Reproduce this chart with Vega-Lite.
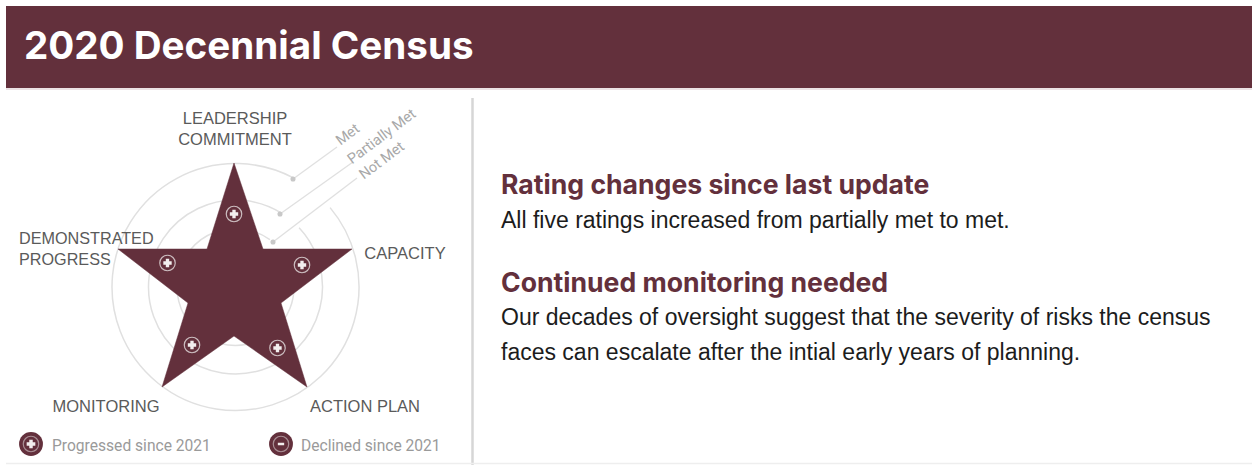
{"$schema":"https://vega.github.io/schema/vega-lite/v6.json","width":1252,"height":465,"padding":0,"autosize":{"type":"none"},"background":"#ffffff","config":{"view":{"stroke":null}},
"encoding":{"x":{"field":"x","type":"quantitative","scale":{"domain":[0,1252],"nice":false,"zero":false},"axis":null},"y":{"field":"y","type":"quantitative","scale":{"domain":[465,0],"nice":false,"zero":false},"axis":null}},
"layer":[
{"data":{"values":[{"x":6,"x2":1252,"y":6,"y2":88,"part":"banner"}]},"mark":{"type":"rect","fill":"#63303c"},"encoding":{"x2":{"field":"x2"},"y2":{"field":"y2"}}},
{"data":{"values":[{"x":6,"x2":1252,"y":89,"part":"banner edge"}]},"mark":{"type":"rule","stroke":"#e6d9dc","strokeWidth":1.5},"encoding":{"x2":{"field":"x2"}}},
{"data":{"values":[{"x":472.5,"y":98,"y2":465,"part":"divider"}]},"mark":{"type":"rule","stroke":"#d6d6d6","strokeWidth":2.5},"encoding":{"y2":{"field":"y2"}}},
{"data":{"values":[{"x":6,"x2":1252,"y":463.5,"part":"foot"}]},"mark":{"type":"rule","stroke":"#eeeeee","strokeWidth":1.5},"encoding":{"x2":{"field":"x2"}}},
{"data":{"values":[
{"x":235.5,"y":287,"ring":"Met","r":123.5,"start":50,"end":388},
{"x":235.5,"y":287,"ring":"Partially Met","r":87,"start":47,"end":392},
{"x":235.5,"y":287,"ring":"Not Met","r":58.5,"start":55,"end":396}
]},"mark":{"type":"arc","fillOpacity":0,"stroke":"#e0e0e0","strokeWidth":1.5},"encoding":{"theta":{"field":"start","type":"quantitative","scale":{"domain":[0,360],"range":[0,6.28318]}},"theta2":{"field":"end"},"radius":{"field":"r","type":"quantitative","scale":{"type":"linear","domain":[0,123.5],"range":[0,123.5]}},"radius2":{"field":"r"}}},
{"data":{"values":[
{"x":293,"y":179,"ring":"Met","i":0},{"x":337,"y":147,"ring":"Met","i":1},
{"x":280,"y":214,"ring":"Partially Met","i":0},{"x":353,"y":162,"ring":"Partially Met","i":1},
{"x":273,"y":242,"ring":"Not Met","i":0},{"x":357,"y":178,"ring":"Not Met","i":1}
]},"layer":[
{"mark":{"type":"line","stroke":"#e0e0e0","strokeWidth":1.3},"encoding":{"detail":{"field":"ring"},"order":{"field":"i"}}},
{"transform":[{"filter":"datum.i == 0"}],"mark":{"type":"point","shape":"circle","filled":true,"fill":"#c8c8c8","opacity":1,"size":26}}
]},
{"data":{"values":[
{"i":0,"x":234,"y":163},{"i":1,"x":263,"y":249},{"i":2,"x":352,"y":249},{"i":3,"x":281,"y":303},{"i":4,"x":307,"y":387},{"i":5,"x":234,"y":336},{"i":6,"x":162,"y":387},{"i":7,"x":188,"y":303},{"i":8,"x":118,"y":249},{"i":9,"x":207,"y":249},{"i":10,"x":234,"y":163}
]},"mark":{"type":"line","fill":"#63303c","stroke":"#63303c","strokeWidth":0.5},"encoding":{"order":{"field":"i"}}},
{"data":{"values":[{"criterion":"Leadership commitment","x":234,"y":214},{"criterion":"Capacity","x":302,"y":265},{"criterion":"Action plan","x":277.5,"y":348},{"criterion":"Monitoring","x":192,"y":345},{"criterion":"Demonstrated progress","x":167.5,"y":263}]},
"layer":[
{"mark":{"type":"point","shape":"circle","filled":false,"stroke":"#cbbcbf","strokeWidth":1.2,"opacity":1,"size":240}},
{"mark":{"type":"point","shape":"cross","filled":true,"fill":"#f2eeee","stroke":null,"opacity":1,"size":70}}
]},
{"data":{"values":[{"status":"Progressed","x":31,"y":444},{"status":"Declined","x":281,"y":444}]},
"layer":[
{"mark":{"type":"point","shape":"circle","filled":true,"fill":"#63303c","opacity":1,"size":570}},
{"mark":{"type":"point","shape":"circle","filled":false,"stroke":"#a98f95","strokeWidth":1.2,"opacity":1,"size":240}},
{"transform":[{"filter":"datum.status == 'Progressed'"}],"mark":{"type":"point","shape":"cross","filled":true,"fill":"#f2eeee","stroke":null,"opacity":1,"size":75}},
{"transform":[{"filter":"datum.status == 'Declined'"}],"mark":{"type":"point","shape":"stroke","filled":false,"stroke":"#f2eeee","strokeWidth":2.5,"opacity":1,"size":40}}
]},
{"data":{"values":[{"x":24,"y":59,"text":"2020 Decennial Census"}]},"mark":{"type":"text","align":"left","baseline":"alphabetic","font":"Inter","fontWeight":"bold","fontSize":38.6,"fill":"#ffffff"},"encoding":{"text":{"field":"text"}}},
{"data":{"values":[{"x":501,"y":194,"text":"Rating changes since last update"},{"x":501,"y":292,"text":"Continued monitoring needed"}]},"mark":{"type":"text","align":"left","baseline":"alphabetic","font":"Inter","fontWeight":"bold","fontSize":26.6,"fill":"#63303c"},"encoding":{"text":{"field":"text"}}},
{"data":{"values":[{"x":501,"y":228,"text":"All five ratings increased from partially met to met."},{"x":501,"y":325,"text":"Our decades of oversight suggest that the severity of risks the census"},{"x":501,"y":360,"text":"faces can escalate after the intial early years of planning."}]},"mark":{"type":"text","align":"left","baseline":"alphabetic","font":"Liberation Sans","fontSize":23,"fill":"#1c1c1c"},"encoding":{"text":{"field":"text"}}},
{"data":{"values":[{"x":235,"y":124,"text":"LEADERSHIP"},{"x":235,"y":145,"text":"COMMITMENT"},{"x":405,"y":259,"text":"CAPACITY"},{"x":365,"y":412,"text":"ACTION PLAN"},{"x":106,"y":412,"text":"MONITORING"}]},"mark":{"type":"text","align":"center","baseline":"alphabetic","font":"Liberation Sans","fontSize":16.5,"fill":"#5a5a5a"},"encoding":{"text":{"field":"text"}}},
{"data":{"values":[{"x":19,"y":244,"text":"DEMONSTRATED"},{"x":19,"y":265,"text":"PROGRESS"}]},"mark":{"type":"text","align":"left","baseline":"alphabetic","font":"Liberation Sans","fontSize":16.2,"fill":"#5a5a5a"},"encoding":{"text":{"field":"text"}}},
{"data":{"values":[{"x":52,"y":451,"text":"Progressed since 2021"},{"x":301,"y":451,"text":"Declined since 2021"}]},"mark":{"type":"text","align":"left","baseline":"alphabetic","font":"Roboto","fontSize":15.6,"fill":"#9a9a9a"},"encoding":{"text":{"field":"text"}}},
{"data":{"values":[{"x":348,"y":135,"text":"Met"},{"x":382,"y":137,"text":"Partially Met"},{"x":382,"y":161,"text":"Not Met"}]},"mark":{"type":"text","align":"center","baseline":"middle","angle":323,"font":"Roboto","fontSize":14.5,"fill":"#a8a8a8"},"encoding":{"text":{"field":"text"}}}
]}
